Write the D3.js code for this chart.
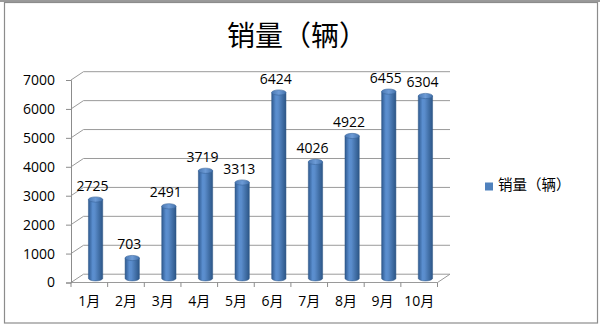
<!DOCTYPE html>
<html><head><meta charset="utf-8">
<script src="https://cdn.jsdelivr.net/npm/d3@7"></script>
<style>body{margin:0;background:#fff}svg{display:block}</style>
</head><body>
<svg id="c" width="600" height="327"></svg>
<script>
const months = ["1月","2月","3月","4月","5月","6月","7月","8月","9月","10月"];
const sales = [2725,703,2491,3719,3313,6424,4026,4922,6455,6304];
const yTicks = [0,1000,2000,3000,4000,5000,6000,7000];
const seriesName = "销量（辆）";
const titleText = "销量（辆）";

(function(){
const svg = d3.select("#c");
const W = 600, H = 327;
const pLeft = 71, pRight = 437.5, pTop = 80, pBottom = 282.5;
const dx = 12.5, dy = -8.3;
const latin = "'Open Sans','Noto Sans CJK SC',sans-serif";
const cjk = "'Noto Sans CJK SC',sans-serif";

// frame
svg.append("rect").attr("x",0).attr("y",0).attr("width",W).attr("height",2).attr("fill","#9a9a9a");
svg.append("rect").attr("x",4.5).attr("y",2.5).attr("width",593).attr("height",320.5)
  .attr("fill","none").attr("stroke","#8c8c8c").attr("stroke-width",1.2);

const x = d3.scaleBand().domain(months).range([pLeft,pRight]).padding(0);
const y = d3.scaleLinear().domain([0,7000]).range([pBottom,pTop]);

const defs = svg.append("defs");
const g1 = defs.append("linearGradient").attr("id","cyl").attr("x1","0").attr("x2","1").attr("y1","0").attr("y2","0");
[["0%","#2f5a90"],["30%","#5b8fd0"],["45%","#5a8ccb"],["100%","#2c5687"]].forEach(s=>g1.append("stop").attr("offset",s[0]).attr("stop-color",s[1]));
const g2 = defs.append("linearGradient").attr("id","cyltop").attr("x1","0").attr("x2","1").attr("y1","0").attr("y2","0");
[["0%","#4a78b3"],["50%","#6d9bd6"],["100%","#4472ab"]].forEach(s=>g2.append("stop").attr("offset",s[0]).attr("stop-color",s[1]));

// gridlines (back wall + left wall diagonal)
const grid = svg.append("g").attr("stroke","#9a9a9a").attr("stroke-width",1).attr("fill","none");
yTicks.forEach(v=>{
  const yy = y(v);
  grid.append("path").attr("d",`M${pLeft},${yy}L${pLeft+dx},${yy+dy}L${pRight+dx},${yy+dy}`);
});
// floor
grid.append("path").attr("d",`M${pLeft},${pBottom}L${pRight},${pBottom}L${pRight+dx},${pBottom+dy}`);

// y axis
const yAxis = d3.axisLeft(y).tickValues(yTicks).tickSize(5).tickPadding(11).tickFormat(d3.format("d"));
const ya = svg.append("g").attr("transform",`translate(${pLeft},0)`).call(yAxis);
ya.select(".domain").attr("stroke","#8c8c8c");
ya.selectAll(".tick line").attr("stroke","#8c8c8c");
ya.selectAll("text").attr("font-family",latin).attr("font-size",14).attr("fill","#000");

// x axis
const xa = svg.append("g").attr("transform",`translate(0,${pBottom})`)
  .call(d3.axisBottom(x).tickSize(0).tickPadding(14));
xa.select(".domain").remove();
xa.selectAll("text").attr("font-family",latin).attr("font-size",14).attr("fill","#000");
const bounds = months.map(m=>x(m)).concat([pRight]);
svg.append("g").selectAll("line").data(bounds).join("line")
  .attr("x1",d=>d).attr("x2",d=>d).attr("y1",pBottom).attr("y2",pBottom+4.5)
  .attr("stroke","#8c8c8c");

// cylinders
const cw = x.bandwidth()*0.39, ry = 2.6;
const base = pBottom + dy/2;
const bars = svg.append("g").selectAll("g").data(months.map((m,i)=>({m,v:sales[i]}))).join("g");
bars.each(function(d){
  const g = d3.select(this);
  const cx = x(d.m) + x.bandwidth()/2 + dx/2;
  const yt = base - (pBottom - y(d.v));
  const rx = cw/2;
  g.append("path")
    .attr("d",`M${cx-rx},${yt}L${cx-rx},${base}A${rx},${ry} 0 0 0 ${cx+rx},${base}L${cx+rx},${yt}Z`)
    .attr("fill","url(#cyl)").attr("stroke","#2e5686").attr("stroke-width",0.5);
  g.append("ellipse").attr("cx",cx).attr("cy",yt).attr("rx",rx).attr("ry",ry)
    .attr("fill","url(#cyltop)").attr("stroke","#3b669c").attr("stroke-width",0.6);
  g.append("text").attr("x",cx-3).attr("y",yt-9).attr("text-anchor","middle")
    .attr("font-family",latin).attr("font-size",14).attr("fill","#000").text(d.v);
});

// title
svg.append("text").attr("x",297).attr("y",46).attr("text-anchor","middle")
  .attr("font-family",cjk).attr("font-size",28).attr("fill","#000").text(titleText);

// legend
svg.append("rect").attr("x",485).attr("y",182.5).attr("width",8).attr("height",8).attr("fill","#4f81bd");
svg.append("text").attr("x",498).attr("y",186.5).attr("dominant-baseline","middle")
  .attr("font-family",cjk).attr("font-size",14.5).attr("fill","#000").text(seriesName);
})();
</script>
</body></html>
